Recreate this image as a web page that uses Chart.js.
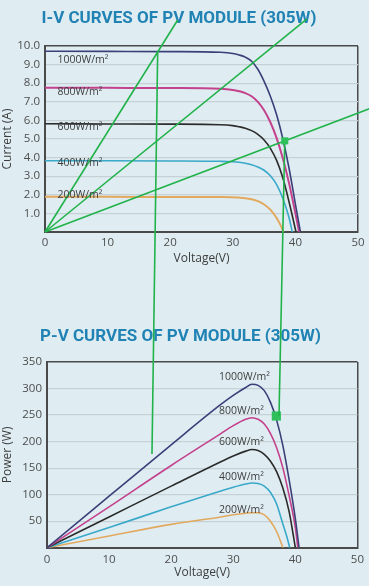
<!DOCTYPE html>
<html>
<head>
<meta charset="utf-8">
<script src="https://cdn.jsdelivr.net/npm/chart.js@4.4.1/dist/chart.umd.min.js"></script>
<style>
  body { margin: 0; background: #dfedf3; }
  #wrap { position: relative; width: 369px; height: 586px; overflow: hidden; }
  #wrap canvas { position: absolute; left: 0; }
  #ivChart { top: 0; z-index: 2; }
  #pvChart { top: 300px; z-index: 1; }
</style>
</head>
<body>
<div id="wrap">
  <canvas id="ivChart" width="369" height="586"></canvas>
  <canvas id="pvChart" width="369" height="286"></canvas>
</div>
<script>
// Irradiancias (etiquetas de las curvas)
const irradiancias = ['1000W/m²', '800W/m²', '600W/m²', '400W/m²', '200W/m²'];
const colores = ['#3b3f78', '#c4428c', '#2b2b2b', '#3aa8c9', '#e2a95e'];

// Curvas I-V (voltaje V, corriente A)
const iv1000V = [0, 10, 20, 28, 30, 31, 32, 33, 34, 35, 36, 37, 38, 39, 40, 40.8];
const iv1000I = [9.72, 9.71, 9.70, 9.66, 9.6, 9.52, 9.4, 9.18, 8.75, 8.1, 7.3, 6.3, 5.0, 3.4, 1.5, 0];
const iv800V = [0, 10, 20, 28, 30, 31, 32, 33, 34, 35, 36, 37, 38, 39, 40, 40.6];
const iv800I = [7.76, 7.75, 7.74, 7.7, 7.64, 7.57, 7.47, 7.3, 7.0, 6.55, 5.9, 5.05, 3.95, 2.6, 1.0, 0];
const iv600V = [0, 10, 20, 28, 30, 31, 32, 33, 34, 35, 36, 37, 38, 39, 40.1];
const iv600I = [5.82, 5.81, 5.8, 5.77, 5.72, 5.66, 5.58, 5.45, 5.25, 4.95, 4.5, 3.85, 2.9, 1.6, 0];
const iv400V = [0, 10, 20, 28, 30, 31, 32, 33, 34, 35, 36, 37, 38, 39, 39.5];
const iv400I = [3.83, 3.83, 3.82, 3.8, 3.78, 3.75, 3.7, 3.62, 3.5, 3.32, 3.02, 2.55, 1.8, 0.75, 0];
const iv200V = [0, 10, 20, 28, 30, 31, 32, 33, 34, 35, 36, 37, 37.6, 38.1];
const iv200I = [1.89, 1.89, 1.88, 1.88, 1.87, 1.85, 1.82, 1.76, 1.66, 1.48, 1.2, 0.75, 0.38, 0];

// Curvas P-V (voltaje V, potencia W)
const pv1000V = [0, 10, 20, 28, 30, 32, 33, 34, 35, 36, 37, 38, 39, 40, 40.6];
const pv1000P = [0, 97, 194, 270, 287, 302, 308, 306, 296, 274, 240, 192, 128, 55, 0];
const pv800V = [0, 10, 20, 28, 30, 32, 33, 34, 35, 36, 37, 38, 39, 40, 40.4];
const pv800P = [0, 77, 155, 215, 230, 242, 245, 242, 233, 215, 188, 150, 98, 38, 0];
const pv600V = [0, 10, 20, 28, 30, 32, 33, 34, 35, 36, 37, 38, 39, 40];
const pv600P = [0, 58, 116, 162, 173, 182, 185, 183, 176, 163, 143, 112, 68, 0];
const pv400V = [0, 10, 20, 28, 30, 32, 33, 34, 35, 36, 37, 38, 38.6, 39.1];
const pv400P = [0, 38, 77, 107, 114, 120, 122, 121, 116, 104, 82, 44, 22, 0];
const pv200V = [0, 10, 20, 28, 30, 32, 33, 34, 35, 36, 37, 38];
const pv200P = [0, 22, 44, 58, 62, 65, 66, 66, 62, 50, 30, 0];

// Lineas verdes de guia, en unidades del grafico I-V
// (las dos verticales bajan hasta el grafico P-V)
const guiaIV = [
  [[0, 0], [21.2, 11.4]],
  [[0, 0], [41.8, 11.45]],
  [[0, 0], [52, 6.65]],
  [[18, 9.7], [17.09, -11.94]],
  [[38.3, 4.9], [37.38, -9.89]]
];
const puntoIV = [38.3, 4.9];
const puntoPV = [36.94, 248.2];

// Posicion de las etiquetas dentro del grafico
const etiquetaIVx = [2, 2, 2, 2, 2];
const etiquetaIVy = [9.25, 7.5, 5.66, 3.73, 2.0];
const etiquetaPVx = [27.7, 27.7, 27.7, 27.7, 27.7];
const etiquetaPVy = [322, 258, 200, 134, 71];

const VERDE = '#22b24a';
const GRID = '#c6d1d6';
const EJE = '#4a4a4a';

Chart.defaults.font.family = '"Open Sans", sans-serif';
Chart.defaults.color = '#4d4d4d';

function serie(xs, ys, color, ancho) {
  return {
    data: xs.map((v, i) => ({ x: v, y: ys[i] })),
    borderColor: color,
    borderWidth: ancho,
    pointRadius: 0,
    fill: false,
    cubicInterpolationMode: 'monotone'
  };
}

function guia(seg) {
  return {
    data: seg.map(p => ({ x: p[0], y: p[1] })),
    borderColor: VERDE,
    borderWidth: 1.6,
    pointRadius: 0,
    clip: false,
    order: -1
  };
}

function punto(p, radio) {
  return {
    data: [{ x: p[0], y: p[1] }],
    showLine: false,
    pointStyle: 'rect',
    pointRadius: radio,
    backgroundColor: '#2fc05c',
    borderColor: '#2fc05c',
    borderWidth: 0,
    clip: false,
    order: -2
  };
}

// Plugin para escribir las etiquetas de irradiancia
const etiquetasPlugin = {
  id: 'etiquetas',
  afterDatasetsDraw(chart, args, opts) {
    const { ctx, scales: { x, y } } = chart;
    ctx.save();
    ctx.font = '10.5px "Open Sans"';
    ctx.fillStyle = '#3d3d3d';
    ctx.textBaseline = 'middle';
    opts.xs.forEach((v, i) => {
      ctx.fillText(irradiancias[i], x.getPixelForValue(v), y.getPixelForValue(opts.ys[i]));
    });
    ctx.restore();
  }
};

function opciones(cfg) {
  return {
    responsive: false,
    animation: false,
    events: [],
    layout: { padding: { left: 0, right: cfg.derecha, top: 0, bottom: cfg.abajo } },
    plugins: {
      legend: { display: false },
      tooltip: { enabled: false },
      title: {
        display: true,
        text: cfg.titulo,
        color: '#2182b4',
        font: { family: 'Roboto', size: 17, weight: 'bold' },
        padding: cfg.tituloPadding
      },
      etiquetas: { xs: cfg.etX, ys: cfg.etY }
    },
    scales: {
      x: {
        type: 'linear',
        min: 0,
        max: 50,
        ticks: { stepSize: 10, padding: cfg.xPad, font: { size: 11.5 } },
        grid: {
          drawTicks: false,
          color: c => (c.tick && c.tick.value === 50 ? EJE : 'rgba(0,0,0,0)'),
          lineWidth: 1.5
        },
        border: { color: EJE, width: 2 },
        title: { display: true, text: 'Voltage(V)', font: { size: 12 }, color: '#3d3d3d', padding: { top: 0, bottom: cfg.xTitPad } },
        afterFit: s => { s.height = cfg.altoX; }
      },
      y: {
        min: 0,
        max: cfg.yMax,
        ticks: {
          stepSize: cfg.yStep,
          padding: 5,
          font: { size: 11.5 },
          callback: v => (v === 0 ? '' : cfg.fmt(v))
        },
        grid: {
          drawTicks: false,
          color: c => (c.tick && c.tick.value === cfg.yMax ? EJE : GRID),
          lineWidth: c => (c.tick && c.tick.value === cfg.yMax ? 1.5 : 1.2)
        },
        border: { color: EJE, width: 2 },
        title: { display: true, text: cfg.yTitulo, font: { size: 12 }, color: '#3d3d3d', padding: { top: 0, bottom: 0 } },
        afterFit: s => { s.width = cfg.anchoY; }
      }
    }
  };
}

new Chart(document.getElementById('ivChart'), {
  type: 'line',
  data: {
    datasets: [
      serie(iv1000V, iv1000I, colores[0], 1.6),
      serie(iv800V, iv800I, colores[1], 2),
      serie(iv600V, iv600I, colores[2], 1.6),
      serie(iv400V, iv400I, colores[3], 1.6),
      serie(iv200V, iv200I, colores[4], 2),
      ...guiaIV.map(guia),
      punto(puntoIV, 5)
    ]
  },
  options: opciones({
    titulo: 'I-V CURVES OF PV MODULE (305W)',
    tituloPadding: { top: 9, bottom: 16.6 },
    derecha: 11,
    abajo: 286,
    xPad: 4,
    xTitPad: 34,
    altoX: 68,
    anchoY: 45,
    yMax: 10,
    yStep: 1,
    fmt: v => v.toFixed(1),
    yTitulo: 'Current (A)',
    etX: etiquetaIVx,
    etY: etiquetaIVy
  }),
  plugins: [etiquetasPlugin]
});

new Chart(document.getElementById('pvChart'), {
  type: 'line',
  data: {
    datasets: [
      serie(pv1000V, pv1000P, colores[0], 1.6),
      serie(pv800V, pv800P, colores[1], 1.6),
      serie(pv600V, pv600P, colores[2], 1.6),
      serie(pv400V, pv400P, colores[3], 1.6),
      serie(pv200V, pv200P, colores[4], 1.6),
      punto(puntoPV, 6.5)
    ]
  },
  options: opciones({
    titulo: 'P-V CURVES OF PV MODULE (305W)',
    tituloPadding: { top: 26.8, bottom: 14.8 },
    derecha: 8,
    abajo: 0,
    xPad: 5,
    xTitPad: 6,
    altoX: 38.3,
    anchoY: 47,
    yMax: 350,
    yStep: 50,
    fmt: v => String(v),
    yTitulo: 'Power (W)',
    etX: etiquetaPVx,
    etY: etiquetaPVy
  }),
  plugins: [etiquetasPlugin]
});
</script>
</body>
</html>
